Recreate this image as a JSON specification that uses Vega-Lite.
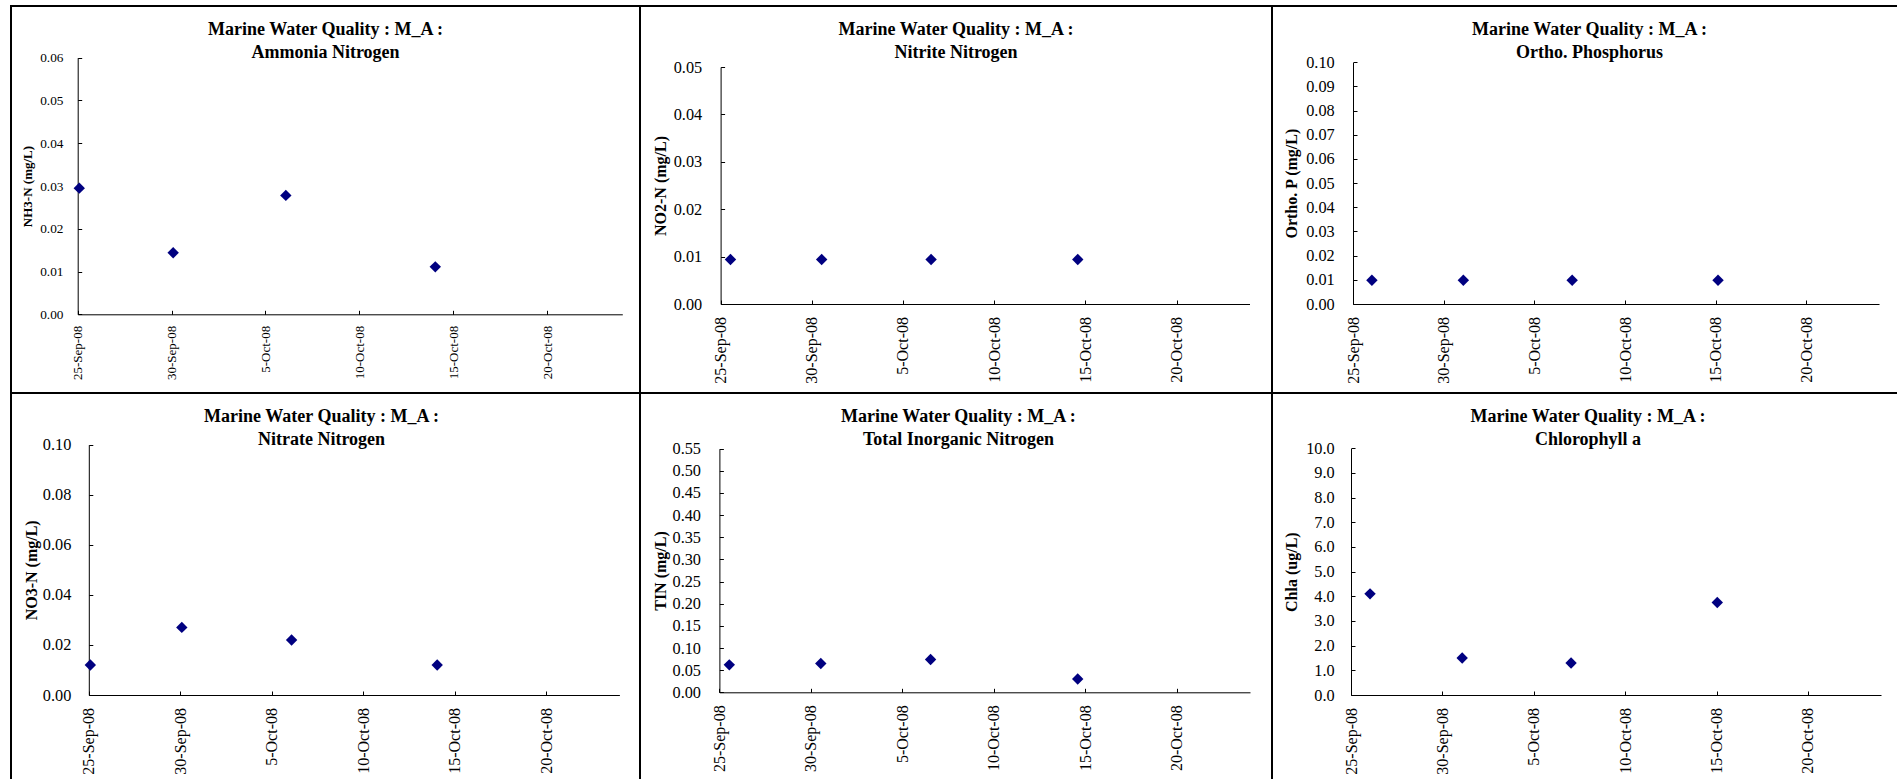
{
  "$schema": "https://vega.github.io/schema/vega-lite/v6.json",
  "background": "white",
  "padding": {"left": 10, "top": 5, "right": 0, "bottom": 0},
  "data": {"values": [
    {"panel": "NH3", "date": "2008-09-25T02:00:00", "value": 0.0295},
    {"panel": "NH3", "date": "2008-09-30T02:00:00", "value": 0.0144},
    {"panel": "NH3", "date": "2008-10-06T02:00:00", "value": 0.0278},
    {"panel": "NH3", "date": "2008-10-14T01:00:00", "value": 0.0111},
    {"panel": "NO2", "date": "2008-09-25T13:00:00", "value": 0.0094},
    {"panel": "NO2", "date": "2008-09-30T13:00:00", "value": 0.0094},
    {"panel": "NO2", "date": "2008-10-06T13:00:00", "value": 0.0094},
    {"panel": "NO2", "date": "2008-10-14T14:00:00", "value": 0.0094},
    {"panel": "PO4", "date": "2008-09-26T01:00:00", "value": 0.0098},
    {"panel": "PO4", "date": "2008-10-01T02:00:00", "value": 0.0098},
    {"panel": "PO4", "date": "2008-10-07T02:00:00", "value": 0.0098},
    {"panel": "PO4", "date": "2008-10-15T03:00:00", "value": 0.0098},
    {"panel": "NO3", "date": "2008-09-25T02:00:00", "value": 0.012},
    {"panel": "NO3", "date": "2008-09-30T02:00:00", "value": 0.027},
    {"panel": "NO3", "date": "2008-10-06T02:00:00", "value": 0.022},
    {"panel": "NO3", "date": "2008-10-14T01:00:00", "value": 0.012},
    {"panel": "TIN", "date": "2008-09-25T13:00:00", "value": 0.062},
    {"panel": "TIN", "date": "2008-09-30T13:00:00", "value": 0.065},
    {"panel": "TIN", "date": "2008-10-06T13:00:00", "value": 0.074},
    {"panel": "TIN", "date": "2008-10-14T14:00:00", "value": 0.030},
    {"panel": "CHLA", "date": "2008-09-26T01:00:00", "value": 4.1},
    {"panel": "CHLA", "date": "2008-10-01T02:00:00", "value": 1.5},
    {"panel": "CHLA", "date": "2008-10-07T01:00:00", "value": 1.3},
    {"panel": "CHLA", "date": "2008-10-15T01:00:00", "value": 3.75}
  ]},
  "columns": 3,
  "spacing": 0,
  "bounds": "flush",
  "concat": [
    {
      "width": 629, "height": 387,
      "title": {"text": ["Marine Water Quality : M_A :", "Ammonia Nitrogen"], "dx": 0, "offset": -56.3},
      "transform": [{"filter": "datum.panel == 'NH3'"}],
      "mark": {"type": "point", "shape": "diamond", "filled": true, "color": "#000080", "opacity": 1, "size": 130},
      "encoding": {
        "x": {"field": "date", "type": "temporal",
          "scale": {"domain": [{"year": 2008, "month": 9, "date": 25}, {"year": 2008, "month": 10, "date": 24}], "range": [66.7, 611.3], "nice": false},
          "axis": {"title": null, "offset": -78.7, "labelFontSize": 13, "labelPadding": 15,
            "values": [{"year": 2008, "month": 9, "date": 25}, {"year": 2008, "month": 9, "date": 30}, {"year": 2008, "month": 10, "date": 5}, {"year": 2008, "month": 10, "date": 10}, {"year": 2008, "month": 10, "date": 15}, {"year": 2008, "month": 10, "date": 20}]}},
        "y": {"field": "value", "type": "quantitative",
          "scale": {"domain": [0, 0.06], "range": [308.3, 51.7], "nice": false, "zero": false},
          "axis": {"title": "NH3-N (mg/L)", "offset": -66.7, "labelFontSize": 13.3, "titleFontSize": 13, "labelPadding": 18.7, "titlePadding": 5, "format": ".2f",
            "values": [0, 0.01, 0.02, 0.03, 0.04, 0.05, 0.06]}}
      }
    },
    {
      "width": 632, "height": 387,
      "title": {"text": ["Marine Water Quality : M_A :", "Nitrite Nitrogen"], "dx": 0, "offset": -56.3},
      "transform": [{"filter": "datum.panel == 'NO2'"}],
      "mark": {"type": "point", "shape": "diamond", "filled": true, "color": "#000080", "opacity": 1, "size": 130},
      "encoding": {
        "x": {"field": "date", "type": "temporal",
          "scale": {"domain": [{"year": 2008, "month": 9, "date": 25}, {"year": 2008, "month": 10, "date": 24}], "range": [80.6, 609.5], "nice": false},
          "axis": {"title": null, "offset": -89, "values": [{"year": 2008, "month": 9, "date": 25}, {"year": 2008, "month": 9, "date": 30}, {"year": 2008, "month": 10, "date": 5}, {"year": 2008, "month": 10, "date": 10}, {"year": 2008, "month": 10, "date": 15}, {"year": 2008, "month": 10, "date": 20}]}},
        "y": {"field": "value", "type": "quantitative",
          "scale": {"domain": [0, 0.05], "range": [298, 61], "nice": false, "zero": false},
          "axis": {"title": "NO2-N (mg/L)", "offset": -80.6, "format": ".2f", "labelPadding": 22.9, "titlePadding": 5,
            "values": [0, 0.01, 0.02, 0.03, 0.04, 0.05]}}
      }
    },
    {
      "width": 630, "height": 387,
      "title": {"text": ["Marine Water Quality : M_A :", "Ortho. Phosphorus"], "dx": 2.5, "offset": -56.3},
      "transform": [{"filter": "datum.panel == 'PO4'"}],
      "mark": {"type": "point", "shape": "diamond", "filled": true, "color": "#000080", "opacity": 1, "size": 130},
      "encoding": {
        "x": {"field": "date", "type": "temporal",
          "scale": {"domain": [{"year": 2008, "month": 9, "date": 25}, {"year": 2008, "month": 10, "date": 24}], "range": [81, 607], "nice": false},
          "axis": {"title": null, "offset": -89, "values": [{"year": 2008, "month": 9, "date": 25}, {"year": 2008, "month": 9, "date": 30}, {"year": 2008, "month": 10, "date": 5}, {"year": 2008, "month": 10, "date": 10}, {"year": 2008, "month": 10, "date": 15}, {"year": 2008, "month": 10, "date": 20}]}},
        "y": {"field": "value", "type": "quantitative",
          "scale": {"domain": [0, 0.1], "range": [298, 56.3], "nice": false, "zero": false},
          "axis": {"title": "Ortho. P (mg/L)", "offset": -81, "format": ".2f", "labelPadding": 22.8, "titlePadding": 6,
            "values": [0, 0.01, 0.02, 0.03, 0.04, 0.05, 0.06, 0.07, 0.08, 0.09, 0.1]}}
      }
    },
    {
      "width": 629, "height": 390,
      "title": {"text": ["Marine Water Quality : M_A :", "Nitrate Nitrogen"], "dx": -4, "offset": -56},
      "transform": [{"filter": "datum.panel == 'NO3'"}],
      "mark": {"type": "point", "shape": "diamond", "filled": true, "color": "#000080", "opacity": 1, "size": 130},
      "encoding": {
        "x": {"field": "date", "type": "temporal",
          "scale": {"domain": [{"year": 2008, "month": 9, "date": 25}, {"year": 2008, "month": 10, "date": 24}], "range": [77.8, 608.4], "nice": false},
          "axis": {"title": null, "offset": -88, "values": [{"year": 2008, "month": 9, "date": 25}, {"year": 2008, "month": 9, "date": 30}, {"year": 2008, "month": 10, "date": 5}, {"year": 2008, "month": 10, "date": 10}, {"year": 2008, "month": 10, "date": 15}, {"year": 2008, "month": 10, "date": 20}]}},
        "y": {"field": "value", "type": "quantitative",
          "scale": {"domain": [0, 0.1], "range": [302, 51.7], "nice": false, "zero": false},
          "axis": {"title": "NO3-N (mg/L)", "offset": -77.8, "format": ".2f", "labelPadding": 22, "titlePadding": 3,
            "values": [0, 0.02, 0.04, 0.06, 0.08, 0.1]}}
      }
    },
    {
      "width": 632, "height": 390,
      "title": {"text": ["Marine Water Quality : M_A :", "Total Inorganic Nitrogen"], "dx": 2.4, "offset": -56},
      "transform": [{"filter": "datum.panel == 'TIN'"}],
      "mark": {"type": "point", "shape": "diamond", "filled": true, "color": "#000080", "opacity": 1, "size": 130},
      "encoding": {
        "x": {"field": "date", "type": "temporal",
          "scale": {"domain": [{"year": 2008, "month": 9, "date": 25}, {"year": 2008, "month": 10, "date": 24}], "range": [79.4, 610], "nice": false},
          "axis": {"title": null, "offset": -90.7, "values": [{"year": 2008, "month": 9, "date": 25}, {"year": 2008, "month": 9, "date": 30}, {"year": 2008, "month": 10, "date": 5}, {"year": 2008, "month": 10, "date": 10}, {"year": 2008, "month": 10, "date": 15}, {"year": 2008, "month": 10, "date": 20}]}},
        "y": {"field": "value", "type": "quantitative",
          "scale": {"domain": [0, 0.55], "range": [299.3, 55.7], "nice": false, "zero": false},
          "axis": {"title": "TIN (mg/L)", "offset": -79.4, "format": ".2f", "labelPadding": 22.9, "titlePadding": 3.5,
            "values": [0, 0.05, 0.1, 0.15, 0.2, 0.25, 0.3, 0.35, 0.4, 0.45, 0.5, 0.55]}}
      }
    },
    {
      "width": 630, "height": 390,
      "title": {"text": ["Marine Water Quality : M_A :", "Chlorophyll a"], "dx": 1, "offset": -56},
      "transform": [{"filter": "datum.panel == 'CHLA'"}],
      "mark": {"type": "point", "shape": "diamond", "filled": true, "color": "#000080", "opacity": 1, "size": 130},
      "encoding": {
        "x": {"field": "date", "type": "temporal",
          "scale": {"domain": [{"year": 2008, "month": 9, "date": 25}, {"year": 2008, "month": 10, "date": 24}], "range": [79, 609], "nice": false},
          "axis": {"title": null, "offset": -88, "values": [{"year": 2008, "month": 9, "date": 25}, {"year": 2008, "month": 9, "date": 30}, {"year": 2008, "month": 10, "date": 5}, {"year": 2008, "month": 10, "date": 10}, {"year": 2008, "month": 10, "date": 15}, {"year": 2008, "month": 10, "date": 20}]}},
        "y": {"field": "value", "type": "quantitative",
          "scale": {"domain": [0, 10], "range": [302, 55.3], "nice": false, "zero": false},
          "axis": {"title": "Chla (ug/L)", "offset": -79, "format": ".1f", "labelPadding": 20.8, "titlePadding": 6,
            "values": [0, 1, 2, 3, 4, 5, 6, 7, 8, 9, 10]}}
      }
    }
  ],
  "config": {
    "view": {"stroke": "black", "strokeWidth": 2, "fill": "white"},
    "font": "Liberation Serif",
    "title": {"font": "Liberation Serif", "fontSize": 18, "fontWeight": "bold", "color": "black", "lineHeight": 23, "anchor": "middle", "frame": "group"},
    "axis": {"grid": false, "domainColor": "black", "domainWidth": 1, "tickColor": "black", "tickSize": -4, "tickWidth": 1,
      "labelFont": "Liberation Serif", "labelColor": "black", "labelFontSize": 16.3, "labelFlush": false, "labelOverlap": false,
      "titleFont": "Liberation Serif", "titleColor": "black", "titleFontWeight": "bold", "titleFontSize": 16, "titlePadding": 4},
    "axisX": {"format": "%-d-%b-%y", "labelAngle": 270, "labelFontSize": 16, "labelPadding": 16.5},
    "axisY": {"labelPadding": 22}
  }
}
